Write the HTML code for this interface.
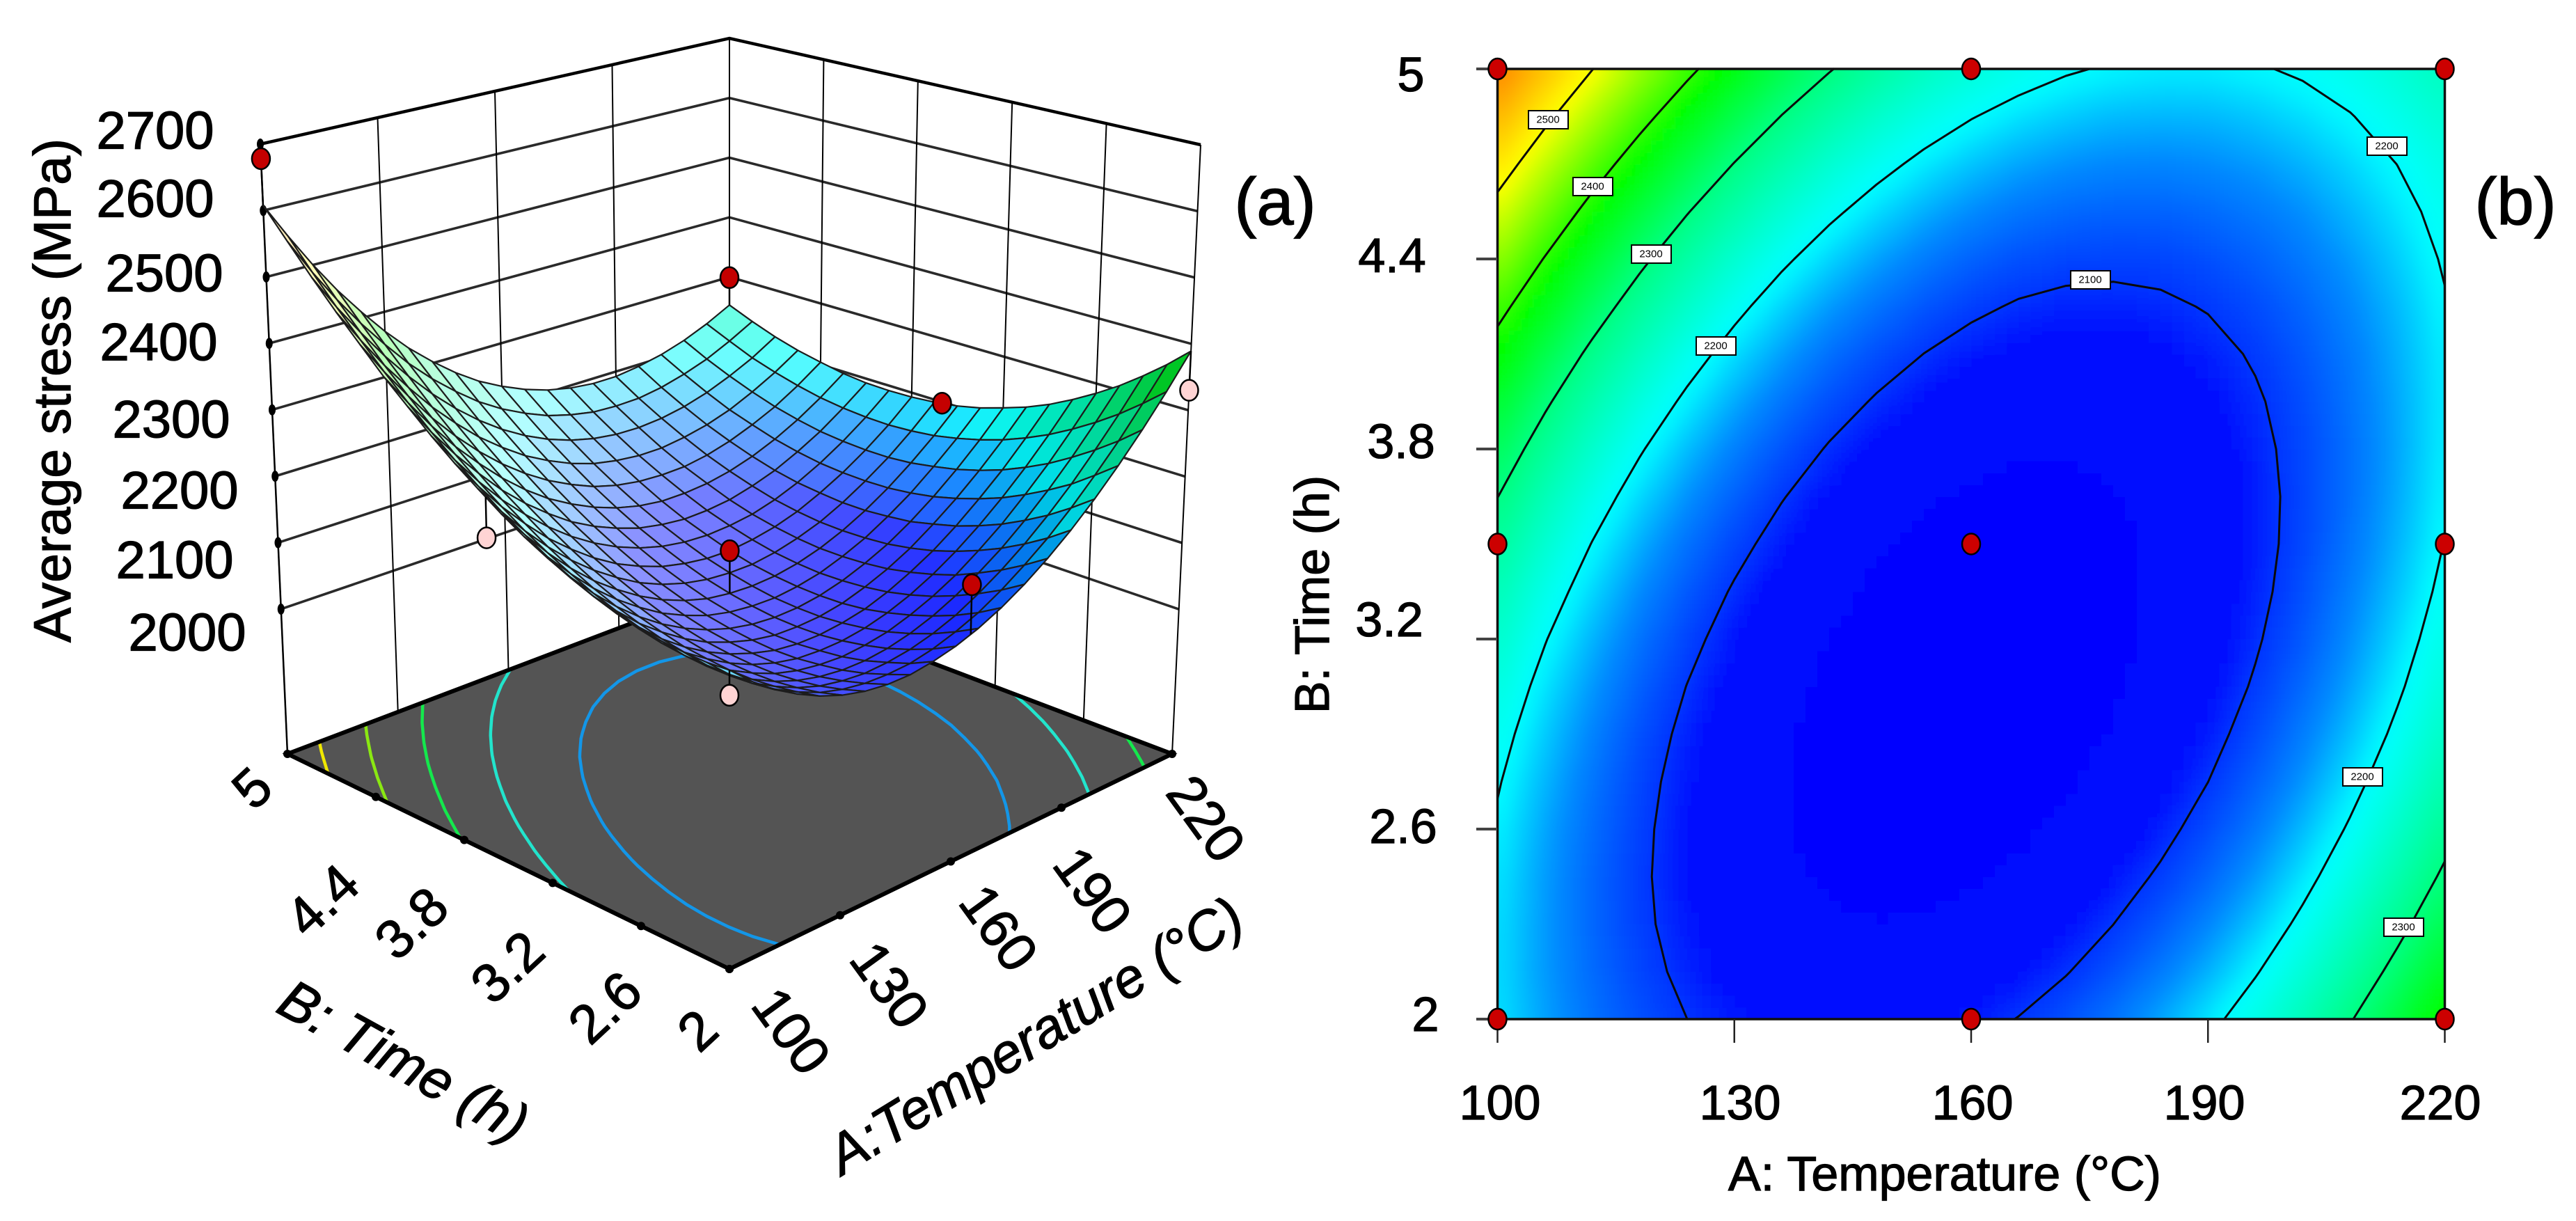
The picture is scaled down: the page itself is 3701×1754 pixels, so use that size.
<!DOCTYPE html>
<html lang="en">
<head>
<meta charset="utf-8">
<title>Average stress response surface and contour plot</title>
<style>
html,body{margin:0;padding:0;background:#fff}
svg{display:block}
text{font-family:"Liberation Sans",sans-serif;fill:#000;stroke:#000;stroke-width:1.3px;dominant-baseline:central;text-anchor:middle}
.tick{font-size:70px}
.ztick{font-size:76px}
.ftick{font-size:78px}
.clabel{font-size:15px;stroke-width:0}
</style>
</head>
<body>
<svg id="figure" xmlns="http://www.w3.org/2000/svg" width="3701" height="1754" viewBox="0 0 3701 1754">
<defs>
<clipPath id="plotClip"><rect x="2151.5" y="99" width="1361" height="1365"/></clipPath>
<filter id="heatBlur" filterUnits="userSpaceOnUse" x="2090" y="40" width="1480" height="1480"><feGaussianBlur stdDeviation="9"/></filter>
</defs>
<rect width="3701" height="1754" fill="#fff"/>
<g id="panelA"></g>
<g id="panelB"></g>

<g>
<text class="ztick" x="223" y="188">2700</text>
<text class="ztick" x="223" y="286">2600</text>
<text class="ztick" x="236" y="393">2500</text>
<text class="ztick" x="228" y="492">2400</text>
<text class="ztick" x="246" y="603">2300</text>
<text class="ztick" x="258" y="705">2200</text>
<text class="ztick" x="251" y="805">2100</text>
<text class="ztick" x="269" y="909">2000</text>
<text x="75" y="561" font-size="75" transform="rotate(-90 75 561)">Average stress (MPa)</text>

<text class="ftick" x="362" y="1132" transform="rotate(-43 362 1132)">5</text>
<text class="ftick" x="463" y="1293" transform="rotate(-43 463 1293)">4.4</text>
<text class="ftick" x="591" y="1326" transform="rotate(-43 591 1326)">3.8</text>
<text class="ftick" x="729" y="1389" transform="rotate(-43 729 1389)">3.2</text>
<text class="ftick" x="869" y="1447" transform="rotate(-43 869 1447)">2.6</text>
<text class="ftick" x="1002" y="1480" transform="rotate(-43 1002 1480)">2</text>

<text class="ftick" x="1137" y="1481" transform="rotate(54 1137 1481)">100</text>
<text class="ftick" x="1278" y="1415" transform="rotate(54 1278 1415)">130</text>
<text class="ftick" x="1435" y="1333" transform="rotate(54 1435 1333)">160</text>
<text class="ftick" x="1570" y="1279" transform="rotate(54 1570 1279)">190</text>
<text class="ftick" x="1733" y="1176" transform="rotate(54 1733 1176)">220</text>

<text x="580" y="1524" font-size="80" font-style="italic" transform="rotate(29 580 1524)">B: Time (h)</text>
<text x="1487" y="1487" font-size="79" font-style="italic" transform="rotate(-31.5 1487 1487)">A:Temperature (°C)</text>
<text x="1832" y="290" font-size="96">(a)</text>
</g>

<g>
<text class="tick" x="2155" y="1584">100</text>
<text class="tick" x="2500" y="1584">130</text>
<text class="tick" x="2834" y="1584">160</text>
<text class="tick" x="3167" y="1584">190</text>
<text class="tick" x="3506" y="1584">220</text>
<text x="2794" y="1686" font-size="70">A: Temperature (°C)</text>
<text class="tick" x="2027" y="107">5</text>
<text class="tick" x="2000" y="367">4.4</text>
<text class="tick" x="2013" y="634">3.8</text>
<text class="tick" x="1996" y="890">3.2</text>
<text class="tick" x="2016" y="1187">2.6</text>
<text class="tick" x="2048" y="1457">2</text>
<text x="1885" y="854" font-size="70" transform="rotate(-90 1885 854)">B: Time (h)</text>
<text x="3614" y="290" font-size="96">(b)</text>
</g>

<g id="contourLabels">
<g><rect x="2196" y="159" width="57" height="26" fill="#fff" stroke="#000" stroke-width="2"/><text class="clabel" x="2224" y="172">2500</text></g>
<g><rect x="2260" y="255" width="57" height="26" fill="#fff" stroke="#000" stroke-width="2"/><text class="clabel" x="2288" y="268">2400</text></g>
<g><rect x="2344" y="352" width="57" height="26" fill="#fff" stroke="#000" stroke-width="2"/><text class="clabel" x="2372" y="365">2300</text></g>
<g><rect x="2437" y="484" width="57" height="26" fill="#fff" stroke="#000" stroke-width="2"/><text class="clabel" x="2465" y="497">2200</text></g>
<g><rect x="3401" y="197" width="57" height="26" fill="#fff" stroke="#000" stroke-width="2"/><text class="clabel" x="3429" y="210">2200</text></g>
<g><rect x="2975" y="389" width="57" height="26" fill="#fff" stroke="#000" stroke-width="2"/><text class="clabel" x="3003" y="402">2100</text></g>
<g><rect x="3366" y="1103" width="57" height="26" fill="#fff" stroke="#000" stroke-width="2"/><text class="clabel" x="3394" y="1116">2200</text></g>
<g><rect x="3425" y="1319" width="57" height="26" fill="#fff" stroke="#000" stroke-width="2"/><text class="clabel" x="3453" y="1332">2300</text></g>
</g>
</svg>

<script>
// ---------- chart data ----------
var temperatureTicks = [100, 130, 160, 190, 220];
var timeTicks = [2, 2.6, 3.2, 3.8, 4.4, 5];
var stressTicks = [2000, 2100, 2200, 2300, 2400, 2500, 2600, 2700];
var contourLevels = [2100, 2200, 2300, 2400, 2500];
var floorContourLevels = [2130, 2230, 2330, 2430, 2530];

var gridTemperature = [100,106,112,118,124,130,136,142,148,154,160,166,172,178,184,190,196,202,208,214,220];
var gridTime = [2,2.15,2.3,2.45,2.6,2.75,2.9,3.05,3.2,3.35,3.5,3.65,3.8,3.95,4.1,4.25,4.4,4.55,4.7,4.85,5];
// stress (MPa): one row per gridTime entry, one column per gridTemperature entry
var stressGrid = [
[2187,2159,2135,2116,2100,2088,2080,2076,2076,2081,2089,2101,2117,2137,2161,2189,2221,2257,2297,2341,2389],
[2185,2156,2131,2110,2093,2079,2070,2065,2064,2066,2073,2084,2098,2117,2140,2166,2197,2232,2270,2313,2359],
[2186,2156,2129,2106,2088,2073,2062,2056,2053,2055,2060,2069,2082,2100,2121,2146,2175,2208,2246,2287,2332],
[2189,2157,2129,2105,2085,2069,2057,2049,2045,2045,2049,2057,2069,2085,2105,2128,2156,2188,2224,2264,2307],
[2195,2161,2132,2107,2085,2068,2054,2045,2040,2038,2041,2047,2058,2072,2090,2113,2139,2170,2204,2243,2285],
[2203,2168,2137,2110,2088,2069,2054,2043,2036,2034,2035,2040,2049,2062,2079,2100,2125,2154,2187,2224,2265],
[2213,2177,2145,2116,2092,2072,2056,2044,2035,2031,2031,2035,2042,2054,2070,2089,2113,2141,2172,2208,2247],
[2226,2188,2155,2125,2100,2078,2060,2047,2037,2031,2030,2032,2038,2049,2063,2081,2104,2130,2160,2194,2232],
[2241,2202,2167,2136,2109,2086,2067,2052,2041,2034,2031,2032,2037,2046,2059,2075,2096,2121,2150,2183,2220],
[2258,2218,2182,2149,2121,2097,2076,2060,2047,2039,2035,2034,2038,2045,2057,2072,2092,2115,2143,2174,2209],
[2278,2237,2199,2165,2135,2110,2088,2070,2056,2046,2041,2039,2041,2047,2057,2071,2089,2111,2137,2167,2201],
[2301,2257,2218,2183,2152,2125,2102,2082,2067,2056,2049,2046,2046,2051,2060,2072,2089,2110,2134,2163,2196],
[2325,2281,2240,2204,2171,2143,2118,2097,2081,2068,2060,2055,2054,2058,2065,2076,2092,2111,2134,2161,2193],
[2352,2306,2264,2226,2193,2163,2137,2115,2097,2083,2073,2067,2065,2067,2072,2082,2096,2114,2136,2162,2192],
[2382,2334,2291,2252,2216,2185,2158,2134,2115,2100,2088,2081,2077,2078,2082,2091,2103,2120,2140,2165,2193],
[2413,2365,2320,2279,2243,2210,2181,2156,2136,2119,2106,2097,2092,2092,2095,2102,2113,2128,2147,2170,2197],
[2448,2398,2352,2309,2271,2237,2207,2181,2159,2141,2126,2116,2110,2108,2109,2115,2125,2139,2156,2178,2204],
[2484,2433,2385,2342,2302,2267,2235,2208,2184,2165,2149,2137,2130,2126,2126,2131,2139,2151,2168,2188,2212],
[2523,2470,2422,2377,2336,2299,2266,2237,2212,2191,2174,2161,2152,2147,2146,2149,2156,2167,2182,2200,2223],
[2565,2510,2460,2414,2372,2333,2299,2269,2242,2220,2202,2187,2177,2170,2168,2169,2175,2185,2198,2216,2237],
[2608,2553,2501,2453,2410,2370,2334,2303,2275,2251,2232,2216,2204,2196,2192,2192,2197,2205,2217,2233,2253]
];

// design points of the contour plot
var designTemperature = [100, 160, 220, 100, 160, 220, 100, 160, 220];
var designTime = [5, 5, 5, 3.5, 3.5, 3.5, 2, 2, 2];

// measured points of the 3D view
var pointTemperature = [100, 220, 220, 220, 100, 164, 100, 160];
var pointTime = [5, 5, 3.6, 2, 3.6, 2, 2, 3.5];
var pointStress = [2678, 2299, 2198, 2330, 2235, 2168, 2153, 2105];
var pointBelowSurface = [false, false, false, true, true, false, true, false];
var hiddenPointTemperature = [160];
var hiddenPointTime = [5];
var hiddenPointStress = [2150];

// ---------- axis functions ----------
var floorStress = 1782, topStress = 2700;
function uOf(T){ return (T - 100) / 120; }
function vOf(t){ return (t - 2) / 3; }
function lerp(a, b, k){ return a + (b - a) * k; }
function project(T, t, s){
  var u = uOf(T), v = vOf(t), w = (s - floorStress) / (topStress - floorStress);
  var bx = lerp(lerp(1048, 1684, u), lerp(413, 1048, u), v);
  var by = lerp(lerp(1392, 1083, u), lerp(1083, 842, u), v);
  var tx = lerp(lerp(1048, 1725, u), lerp(374, 1048, u), v);
  var ty = lerp(lerp(419, 208, u), lerp(207, 55, u), v);
  return [lerp(bx, tx, w), lerp(by, ty, w)];
}
function xB(T){ return 2151.5 + uOf(T) * 1361; }
function yB(t){ return 1464 - vOf(t) * 1365; }

// ---------- colour ----------
var colorStops = [[2030,0,0,255],[2085,0,16,255],[2100,0,52,255],[2150,0,140,255],[2195,0,245,255],[2205,0,255,250],[2300,0,255,128],[2380,0,255,0],[2500,255,255,0],[2610,255,128,0],[2700,255,0,0]];
function colorRGB(s){
  if (s <= colorStops[0][0]) return colorStops[0].slice(1);
  for (var k = 1; k < colorStops.length; k++){
    if (s <= colorStops[k][0]){
      var a = colorStops[k-1], b = colorStops[k], f = (s - a[0]) / (b[0] - a[0]);
      return [lerp(a[1],b[1],f), lerp(a[2],b[2],f), lerp(a[3],b[3],f)];
    }
  }
  return [255,0,0];
}
function rgbStr(c){ return 'rgb(' + Math.round(c[0]) + ',' + Math.round(c[1]) + ',' + Math.round(c[2]) + ')'; }

// ---------- helpers ----------
var NS = 'http://www.w3.org/2000/svg';
function svgEl(tag, parent, attrs){
  var el = document.createElementNS(NS, tag);
  for (var k in attrs) el.setAttribute(k, attrs[k]);
  parent.appendChild(el);
  return el;
}
function stressAt(T, t){
  var fi = uOf(T) * (gridTemperature.length - 1), fj = vOf(t) * (gridTime.length - 1);
  var i = Math.min(Math.floor(fi), gridTemperature.length - 2), j = Math.min(Math.floor(fj), gridTime.length - 2);
  var a = fi - i, b = fj - j;
  return lerp(lerp(stressGrid[j][i], stressGrid[j][i+1], a), lerp(stressGrid[j+1][i], stressGrid[j+1][i+1], a), b);
}
// quadratic-preserving noise filter so contour lines are not jagged by the integer readings
var sgKernel = [-3, 12, 17, 12, -3];
function smoothLine(get, n, k){
  if (k < 2 || k > n - 3) return get(k);
  var sum = 0;
  for (var m = -2; m <= 2; m++) sum += sgKernel[m + 2] * get(k + m);
  return sum / 35;
}
var rowSmoothed = stressGrid.map(function(row){
  return row.map(function(_, i){ return smoothLine(function(k){ return row[k]; }, row.length, i); });
});
var contourGrid = rowSmoothed.map(function(row, j){
  return row.map(function(_, i){ return smoothLine(function(k){ return rowSmoothed[k][i]; }, rowSmoothed.length, j); });
});
function contourSegments(level){
  var segs = [];
  for (var j = 0; j < gridTime.length - 1; j++){
    for (var i = 0; i < gridTemperature.length - 1; i++){
      var x0 = gridTemperature[i], x1 = gridTemperature[i+1], y0 = gridTime[j], y1 = gridTime[j+1];
      var a = contourGrid[j][i], b = contourGrid[j][i+1], c = contourGrid[j+1][i+1], d = contourGrid[j+1][i];
      var pts = [];
      if ((a < level) !== (b < level)) pts.push([lerp(x0,x1,(level-a)/(b-a)), y0]);
      if ((b < level) !== (c < level)) pts.push([x1, lerp(y0,y1,(level-b)/(c-b))]);
      if ((d < level) !== (c < level)) pts.push([lerp(x0,x1,(level-d)/(c-d)), y1]);
      if ((a < level) !== (d < level)) pts.push([x0, lerp(y0,y1,(level-a)/(d-a))]);
      if (pts.length === 2) segs.push([pts[0], pts[1]]);
      if (pts.length === 4){ segs.push([pts[0], pts[3]]); segs.push([pts[1], pts[2]]); }
    }
  }
  return segs;
}
function drawMarker(parent, x, y, fill, name){
  var el = svgEl('ellipse', parent, {cx:x, cy:y, rx:13, ry:15, fill:fill, stroke:'#000', 'stroke-width':2.5});
  
  
  return el;
}

// ---------- panel A: 3D surface ----------
var panelA = document.getElementById('panelA');
var tMin = 100, tMax = 220, hMin = 2, hMax = 5;

stressTicks.forEach(function(s){
  var a = project(tMin, hMax, s), b = project(tMax, hMax, s), c = project(tMax, hMin, s);
  var line = svgEl('polyline', panelA, {points:a.join(',')+' '+b.join(',')+' '+c.join(','), fill:'none', stroke: s === topStress ? '#000' : '#2a2a2a', 'stroke-width': s === topStress ? 4.5 : 3.6});
  
  
});
temperatureTicks.forEach(function(T){
  var a = project(T, hMax, topStress), b = project(T, hMax, floorStress);
  var line = svgEl('line', panelA, {x1:a[0], y1:a[1], x2:b[0], y2:b[1], stroke:'#000', 'stroke-width':2});
  
  
});
timeTicks.forEach(function(t){
  var a = project(tMax, t, topStress), b = project(tMax, t, floorStress);
  var line = svgEl('line', panelA, {x1:a[0], y1:a[1], x2:b[0], y2:b[1], stroke:'#000', 'stroke-width':2});
  
  
});
var leftA = project(tMin, hMax, topStress), leftB = project(tMin, hMax, floorStress);
var leftEdge = svgEl('line', panelA, {x1:leftA[0], y1:leftA[1], x2:leftB[0], y2:leftB[1], stroke:'#000', 'stroke-width':2.5});


stressTicks.forEach(function(s){
  var p = project(tMin, hMax, s);
  var dot = svgEl('ellipse', panelA, {cx:p[0], cy:p[1], rx:5, ry:8, fill:'#000'});
  
  
});

function floorPath(){
  var c = [project(tMin,hMin,floorStress), project(tMax,hMin,floorStress), project(tMax,hMax,floorStress), project(tMin,hMax,floorStress)];
  return c.map(function(p){ return p.join(','); }).join(' ');
}
var floor = svgEl('polygon', panelA, {points:floorPath(), fill:'#545454'});



var floorStroke = {2130:'#1396e8', 2230:'#22e4cc', 2330:'#14e84c', 2430:'#8ae812', 2530:'#f0e800'};
floorContourLevels.forEach(function(level){
  var d = contourSegments(level).map(function(seg){
    var a = project(seg[0][0], seg[0][1], floorStress), b = project(seg[1][0], seg[1][1], floorStress);
    return 'M' + a[0].toFixed(1) + ' ' + a[1].toFixed(1) + 'L' + b[0].toFixed(1) + ' ' + b[1].toFixed(1);
  }).join('');
  var path = svgEl('path', panelA, {d:d, fill:'none', stroke:floorStroke[level] || '#1396e8', 'stroke-width':4.5, 'stroke-linecap':'round'});
  
  
});
var floorEdge = svgEl('polygon', panelA, {points:floorPath(), fill:'none', stroke:'#000', 'stroke-width':6, 'stroke-linejoin':'miter'});


temperatureTicks.forEach(function(T){
  var p = project(T, hMin, floorStress);
  var dot = svgEl('circle', panelA, {cx:p[0], cy:p[1], r:6, fill:'#000'});
  
  
});
timeTicks.forEach(function(t){
  var p = project(tMin, t, floorStress);
  var dot = svgEl('circle', panelA, {cx:p[0], cy:p[1], r:6, fill:'#000'});
  
  
});

hiddenPointTemperature.forEach(function(T, n){
  var p = project(T, hiddenPointTime[n], hiddenPointStress[n]);
  drawMarker(panelA, p[0], p[1], '#ffd4d4', 'design-point-hidden');
});

var quads = [];
for (var qj = 0; qj < gridTime.length - 1; qj++){
  for (var qi = 0; qi < gridTemperature.length - 1; qi++){ quads.push([qi, qj]); }
}
quads.sort(function(a, b){ return (b[0] + b[1]) - (a[0] + a[1]); });
var surfaceGroup = svgEl('g', panelA, {'stroke':'#1c1c1c', 'stroke-width':2.2, 'stroke-linejoin':'round'});


quads.forEach(function(q){
  var i = q[0], j = q[1];
  var corners = [[i,j],[i+1,j],[i+1,j+1],[i,j+1]];
  var pts = corners.map(function(c){
    return project(gridTemperature[c[0]], gridTime[c[1]], stressGrid[c[1]][c[0]]).map(function(n){ return n.toFixed(1); }).join(',');
  }).join(' ');
  var mean = (stressGrid[j][i] + stressGrid[j][i+1] + stressGrid[j+1][i+1] + stressGrid[j+1][i]) / 4;
  var u = (i + .5) / (gridTemperature.length - 1), v = (j + .5) / (gridTime.length - 1);
  var col = colorRGB(mean);
  var mix = Math.max(0, Math.min(.72, .62 * (v - u) + .42));
  var shade = 1 - .25 * Math.max(0, u - v - .5) / .5;
  col = [0,1,2].map(function(k){ return (col[k] + (255 - col[k]) * mix) * shade; });
  var quad = svgEl('polygon', surfaceGroup, {points:pts, fill:rgbStr(col)});
  
  
});

pointTemperature.forEach(function(T, n){
  var t = pointTime[n], s = pointStress[n];
  var p = project(T, t, s), q = project(T, t, stressAt(T, t));
  var stem = svgEl('line', panelA, {x1:p[0], y1:p[1], x2:q[0], y2:q[1], stroke:'#000', 'stroke-width':2.5});
  
  
  drawMarker(panelA, p[0], p[1], pointBelowSurface[n] ? '#ffd4d4' : '#c40000', pointBelowSurface[n] ? 'design-point-below-surface' : 'design-point-above-surface');
});

// ---------- panel B: contour ----------
var panelB = document.getElementById('panelB');
var heatClip = svgEl('g', panelB, {'clip-path':'url(#plotClip)'});


var heat = svgEl('g', heatClip, {'shape-rendering':'crispEdges', filter:'url(#heatBlur)'});


var sub = 4, bleed = 50;
for (var hj = 0; hj < gridTime.length - 1; hj++){
  for (var hi = 0; hi < gridTemperature.length - 1; hi++){
    for (var sj = 0; sj < sub; sj++){
      for (var si = 0; si < sub; si++){
        var fa = (si + .5) / sub, fb = (sj + .5) / sub;
        var val = lerp(lerp(stressGrid[hj][hi], stressGrid[hj][hi+1], fa), lerp(stressGrid[hj+1][hi], stressGrid[hj+1][hi+1], fa), fb);
        var cx0 = xB(lerp(gridTemperature[hi], gridTemperature[hi+1], si / sub)), cx1 = xB(lerp(gridTemperature[hi], gridTemperature[hi+1], (si + 1) / sub));
        var cy1 = yB(lerp(gridTime[hj], gridTime[hj+1], sj / sub)), cy0 = yB(lerp(gridTime[hj], gridTime[hj+1], (sj + 1) / sub));
        if (hi === 0 && si === 0) cx0 -= bleed;
        if (hi === gridTemperature.length - 2 && si === sub - 1) cx1 += bleed;
        if (hj === 0 && sj === 0) cy1 += bleed;
        if (hj === gridTime.length - 2 && sj === sub - 1) cy0 -= bleed;
        var cell = svgEl('rect', heat, {x:cx0.toFixed(1), y:cy0.toFixed(1), width:(cx1 - cx0 + .6).toFixed(1), height:(cy1 - cy0 + .6).toFixed(1), fill:rgbStr(colorRGB(val))});
        
        
      }
    }
  }
}
contourLevels.forEach(function(level){
  var d = contourSegments(level).map(function(seg){
    return 'M' + xB(seg[0][0]).toFixed(1) + ' ' + yB(seg[0][1]).toFixed(1) + 'L' + xB(seg[1][0]).toFixed(1) + ' ' + yB(seg[1][1]).toFixed(1);
  }).join('');
  var path = svgEl('path', panelB, {d:d, fill:'none', stroke:'#0a0a0a', 'stroke-width':3, 'stroke-linecap':'round'});
  
  
});
var border = svgEl('rect', panelB, {x:xB(100), y:yB(5), width:xB(220) - xB(100), height:yB(2) - yB(5), fill:'none', stroke:'#111', 'stroke-width':3.5});


temperatureTicks.forEach(function(T){
  var tick = svgEl('line', panelB, {x1:xB(T), y1:1464, x2:xB(T), y2:1498, stroke:'#222', 'stroke-width':2.5});
  
  
});
timeTicks.forEach(function(t){
  var tick = svgEl('line', panelB, {x1:2121, y1:yB(t), x2:2151, y2:yB(t), stroke:'#444', 'stroke-width':4});
  
  
});
designTemperature.forEach(function(T, n){
  drawMarker(panelB, xB(T), yB(designTime[n]), '#cc0000', 'design-point');
});
</script>
</body>
</html>
